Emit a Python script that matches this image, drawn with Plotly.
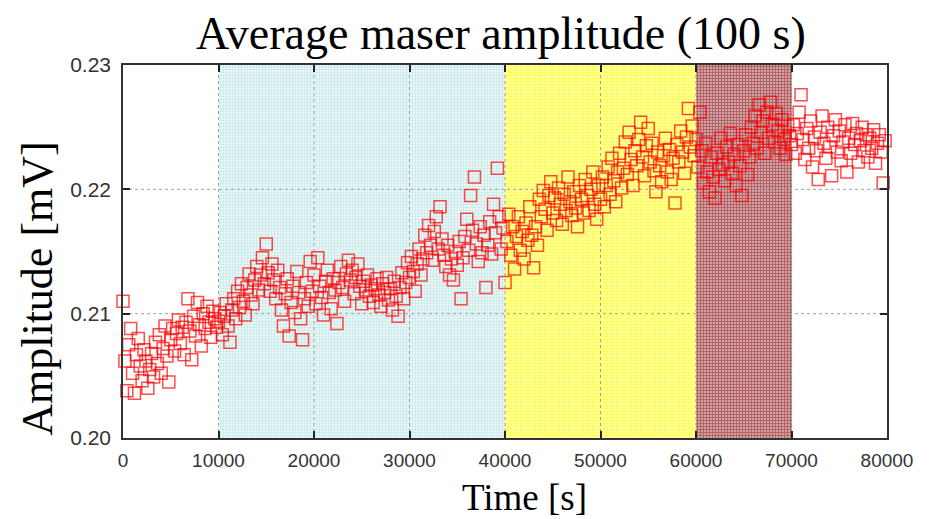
import plotly.graph_objects as go

# ---------------- data (amplitude in mV, one value every 200 s) ----------------
step_s = 200
amp_00k = [0.2110, 0.2062, 0.2038, 0.2075, 0.2088, 0.2052, 0.2036, 0.2067, 0.2080, 0.2058,
           0.2046, 0.2071, 0.2062, 0.2040, 0.2055, 0.2068, 0.2049, 0.2077, 0.2060, 0.2083,
           0.2052, 0.2072, 0.2090, 0.2066, 0.2045, 0.2079, 0.2088, 0.2070, 0.2084, 0.2095,
           0.2076, 0.2089, 0.2067, 0.2093, 0.2112, 0.2086, 0.2063, 0.2098, 0.2082, 0.2109,
           0.2091, 0.2074, 0.2100, 0.2088, 0.2106, 0.2093, 0.2081, 0.2102, 0.2096, 0.2089]
amp_10k = [0.2094, 0.2101, 0.2083, 0.2098, 0.2108, 0.2090, 0.2077, 0.2103, 0.2112, 0.2096,
           0.2118, 0.2105, 0.2124, 0.2110, 0.2099, 0.2121, 0.2132, 0.2115, 0.2108, 0.2127,
           0.2138, 0.2119, 0.2131, 0.2145, 0.2124, 0.2156, 0.2133, 0.2118, 0.2140, 0.2127,
           0.2112, 0.2135, 0.2121, 0.2103, 0.2090, 0.2116, 0.2128, 0.2082, 0.2109, 0.2122,
           0.2101, 0.2134, 0.2117, 0.2096, 0.2079, 0.2112, 0.2125, 0.2106, 0.2142, 0.2118]
amp_20k = [0.2131, 0.2108, 0.2145, 0.2122, 0.2113, 0.2099, 0.2126, 0.2135, 0.2117, 0.2104,
           0.2128, 0.2119, 0.2092, 0.2125, 0.2138, 0.2121, 0.2110, 0.2132, 0.2143, 0.2127,
           0.2135, 0.2116, 0.2129, 0.2140, 0.2122, 0.2108, 0.2126, 0.2119, 0.2131, 0.2114,
           0.2123, 0.2109, 0.2120, 0.2128, 0.2115, 0.2106, 0.2124, 0.2117, 0.2129, 0.2111,
           0.2120, 0.2103, 0.2126, 0.2114, 0.2098, 0.2121, 0.2133, 0.2112, 0.2125, 0.2141]
amp_30k = [0.2129, 0.2146, 0.2134, 0.2118, 0.2140, 0.2152, 0.2131, 0.2144, 0.2163, 0.2149,
           0.2171, 0.2155, 0.2143, 0.2166, 0.2178, 0.2152, 0.2186, 0.2160, 0.2147, 0.2138,
           0.2155, 0.2131, 0.2144, 0.2127, 0.2150, 0.2139, 0.2158, 0.2112, 0.2145, 0.2162,
           0.2176, 0.2151, 0.2195, 0.2167, 0.2210, 0.2156, 0.2142, 0.2170, 0.2149, 0.2163,
           0.2121, 0.2155, 0.2174, 0.2148, 0.2188, 0.2165, 0.2217, 0.2178, 0.2152, 0.2169]
amp_40k = [0.2125, 0.2158, 0.2180, 0.2147, 0.2170, 0.2136, 0.2162, 0.2178, 0.2151, 0.2166,
           0.2144, 0.2173, 0.2159, 0.2186, 0.2163, 0.2137, 0.2170, 0.2155, 0.2192, 0.2178,
           0.2199, 0.2184, 0.2167, 0.2195, 0.2206, 0.2181, 0.2193, 0.2175, 0.2201, 0.2188,
           0.2172, 0.2196, 0.2183, 0.2210, 0.2190, 0.2179, 0.2198, 0.2185, 0.2170, 0.2203,
           0.2192, 0.2181, 0.2208, 0.2195, 0.2183, 0.2200, 0.2214, 0.2188, 0.2176, 0.2203]
amp_50k = [0.2192, 0.2210, 0.2186, 0.2203, 0.2218, 0.2196, 0.2225, 0.2207, 0.2190, 0.2214,
           0.2229, 0.2201, 0.2217, 0.2238, 0.2212, 0.2246, 0.2224, 0.2203, 0.2231, 0.2219,
           0.2240, 0.2254, 0.2226, 0.2211, 0.2235, 0.2249, 0.2222, 0.2237, 0.2215, 0.2198,
           0.2230, 0.2219, 0.2206, 0.2227, 0.2241, 0.2214, 0.2232, 0.2208, 0.2225, 0.2189,
           0.2236, 0.2222, 0.2247, 0.2230, 0.2213, 0.2242, 0.2265, 0.2234, 0.2251, 0.2227]
amp_60k = [0.2240, 0.2218, 0.2262, 0.2231, 0.2205, 0.2237, 0.2214, 0.2198, 0.2226, 0.2210,
           0.2193, 0.2229, 0.2216, 0.2241, 0.2220, 0.2207, 0.2234, 0.2222, 0.2245, 0.2213,
           0.2228, 0.2203, 0.2236, 0.2219, 0.2195, 0.2231, 0.2244, 0.2212, 0.2226, 0.2250,
           0.2237, 0.2259, 0.2233, 0.2268, 0.2246, 0.2255, 0.2229, 0.2262, 0.2241, 0.2270,
           0.2252, 0.2238, 0.2261, 0.2247, 0.2233, 0.2256, 0.2240, 0.2228, 0.2251, 0.2243]
amp_70k = [0.2236, 0.2252, 0.2229, 0.2245, 0.2262, 0.2276, 0.2240, 0.2224, 0.2249, 0.2233,
           0.2255, 0.2218, 0.2242, 0.2231, 0.2208, 0.2246, 0.2259, 0.2237, 0.2225, 0.2250,
           0.2234, 0.2211, 0.2243, 0.2256, 0.2230, 0.2247, 0.2223, 0.2238, 0.2252, 0.2214,
           0.2241, 0.2229, 0.2253, 0.2236, 0.2245, 0.2222, 0.2239, 0.2250, 0.2231, 0.2244,
           0.2226, 0.2241, 0.2233, 0.2248, 0.2221, 0.2237, 0.2244, 0.2230, 0.2205, 0.2239]

x_ticks = [0, 10000, 20000, 30000, 40000, 50000, 60000, 70000, 80000]
y_ticks = [0.20, 0.21, 0.22, 0.23]

# shaded intervals [start, end] in s
band_blue = [10000, 40000]
band_yellow = [40000, 60000]
band_red = [60000, 70000]

title_text = "Average maser amplitude (100 s)"
x_title = "Time [s]"
y_title = "Amplitude [mV]"

# ---------------- build ----------------
amplitude = amp_00k + amp_10k + amp_20k + amp_30k + amp_40k + amp_50k + amp_60k + amp_70k
time_s = [i * step_s for i in range(len(amplitude))]

y_lo, y_hi = y_ticks[0], y_ticks[-1]

fig = go.Figure()

def band(rng, bg, fg, solidity):
    fig.add_trace(go.Bar(
        x=[(rng[0] + rng[1]) / 2], width=[rng[1] - rng[0]],
        y=[y_hi - y_lo], base=[y_lo],
        marker=dict(color=bg, line=dict(width=0),
                    pattern=dict(shape="+", fgcolor=fg, size=3, solidity=solidity)),
        hoverinfo="skip", showlegend=False))

band(band_blue, "#eaf7f7", "#aadbdf", 0.45)
band(band_yellow, "#ffffa8", "#ffff00", 0.5)
band(band_red, "#d4a8a8", "#8e1e28", 0.6)

# dotted grid lines drawn above the shading
for xv in x_ticks[1:-1]:
    fig.add_trace(go.Scatter(x=[xv, xv], y=[y_lo, y_hi], mode="lines",
                             line=dict(color="#a0a0a0", width=1, dash="dot"),
                             hoverinfo="skip", showlegend=False))
for yv in y_ticks[1:-1]:
    fig.add_trace(go.Scatter(x=[x_ticks[0], x_ticks[-1]], y=[yv, yv], mode="lines",
                             line=dict(color="#a0a0a0", width=1, dash="dot"),
                             hoverinfo="skip", showlegend=False))

fig.add_trace(go.Scatter(
    x=time_s, y=amplitude, mode="markers", cliponaxis=False,
    marker=dict(symbol="square-open", size=12, color="rgba(255,0,0,0.7)",
                line=dict(width=1.5, color="rgba(255,0,0,0.7)")),
    showlegend=False, hoverinfo="skip"))

axis_common = dict(showline=True, linecolor="#333333", linewidth=1.5, mirror="allticks",
                   ticks="inside", ticklen=7, tickwidth=2, tickcolor="#222222",
                   showgrid=False, zeroline=False)

fig.update_xaxes(range=[x_ticks[0], x_ticks[-1]], tickvals=x_ticks, tickformat="d",
                 ticklabelstandoff=4,
                 tickfont=dict(family="Liberation Sans, Arial", size=19, color="#333333"),
                 **axis_common)
fig.update_yaxes(range=[y_lo, y_hi], tickvals=y_ticks, tickformat=".2f", ticklabelstandoff=6,
                 tickfont=dict(family="Liberation Sans, Arial", size=21, color="#333333"),
                 **axis_common)

serif = "Liberation Serif, Times New Roman, serif"
# page body has an 8px default margin, so the figure sits at (8, 8)
fig.update_layout(
    width=931, height=511,
    margin=dict(l=115, r=52, t=57, b=81),
    paper_bgcolor="white", plot_bgcolor="white",
    bargap=0, barmode="overlay",
    hovermode=False,
    annotations=[
        dict(text=title_text, xref="paper", yref="paper", x=0.495, y=1.0, yanchor="middle",
             xanchor="center", yshift=32,
             showarrow=False, font=dict(family=serif, size=46, color="black")),
        dict(text=x_title, xref="paper", yref="paper", x=0.526, y=0, yanchor="middle",
             xanchor="center", yshift=-59,
             showarrow=False, font=dict(family=serif, size=37, color="black")),
        dict(text=y_title, xref="paper", yref="paper", x=0, xshift=-85, y=0.40,
             xanchor="center", yanchor="middle",
             textangle=-90, showarrow=False, font=dict(family=serif, size=44, color="black")),
    ],
)

fig.write_html("out.html")
